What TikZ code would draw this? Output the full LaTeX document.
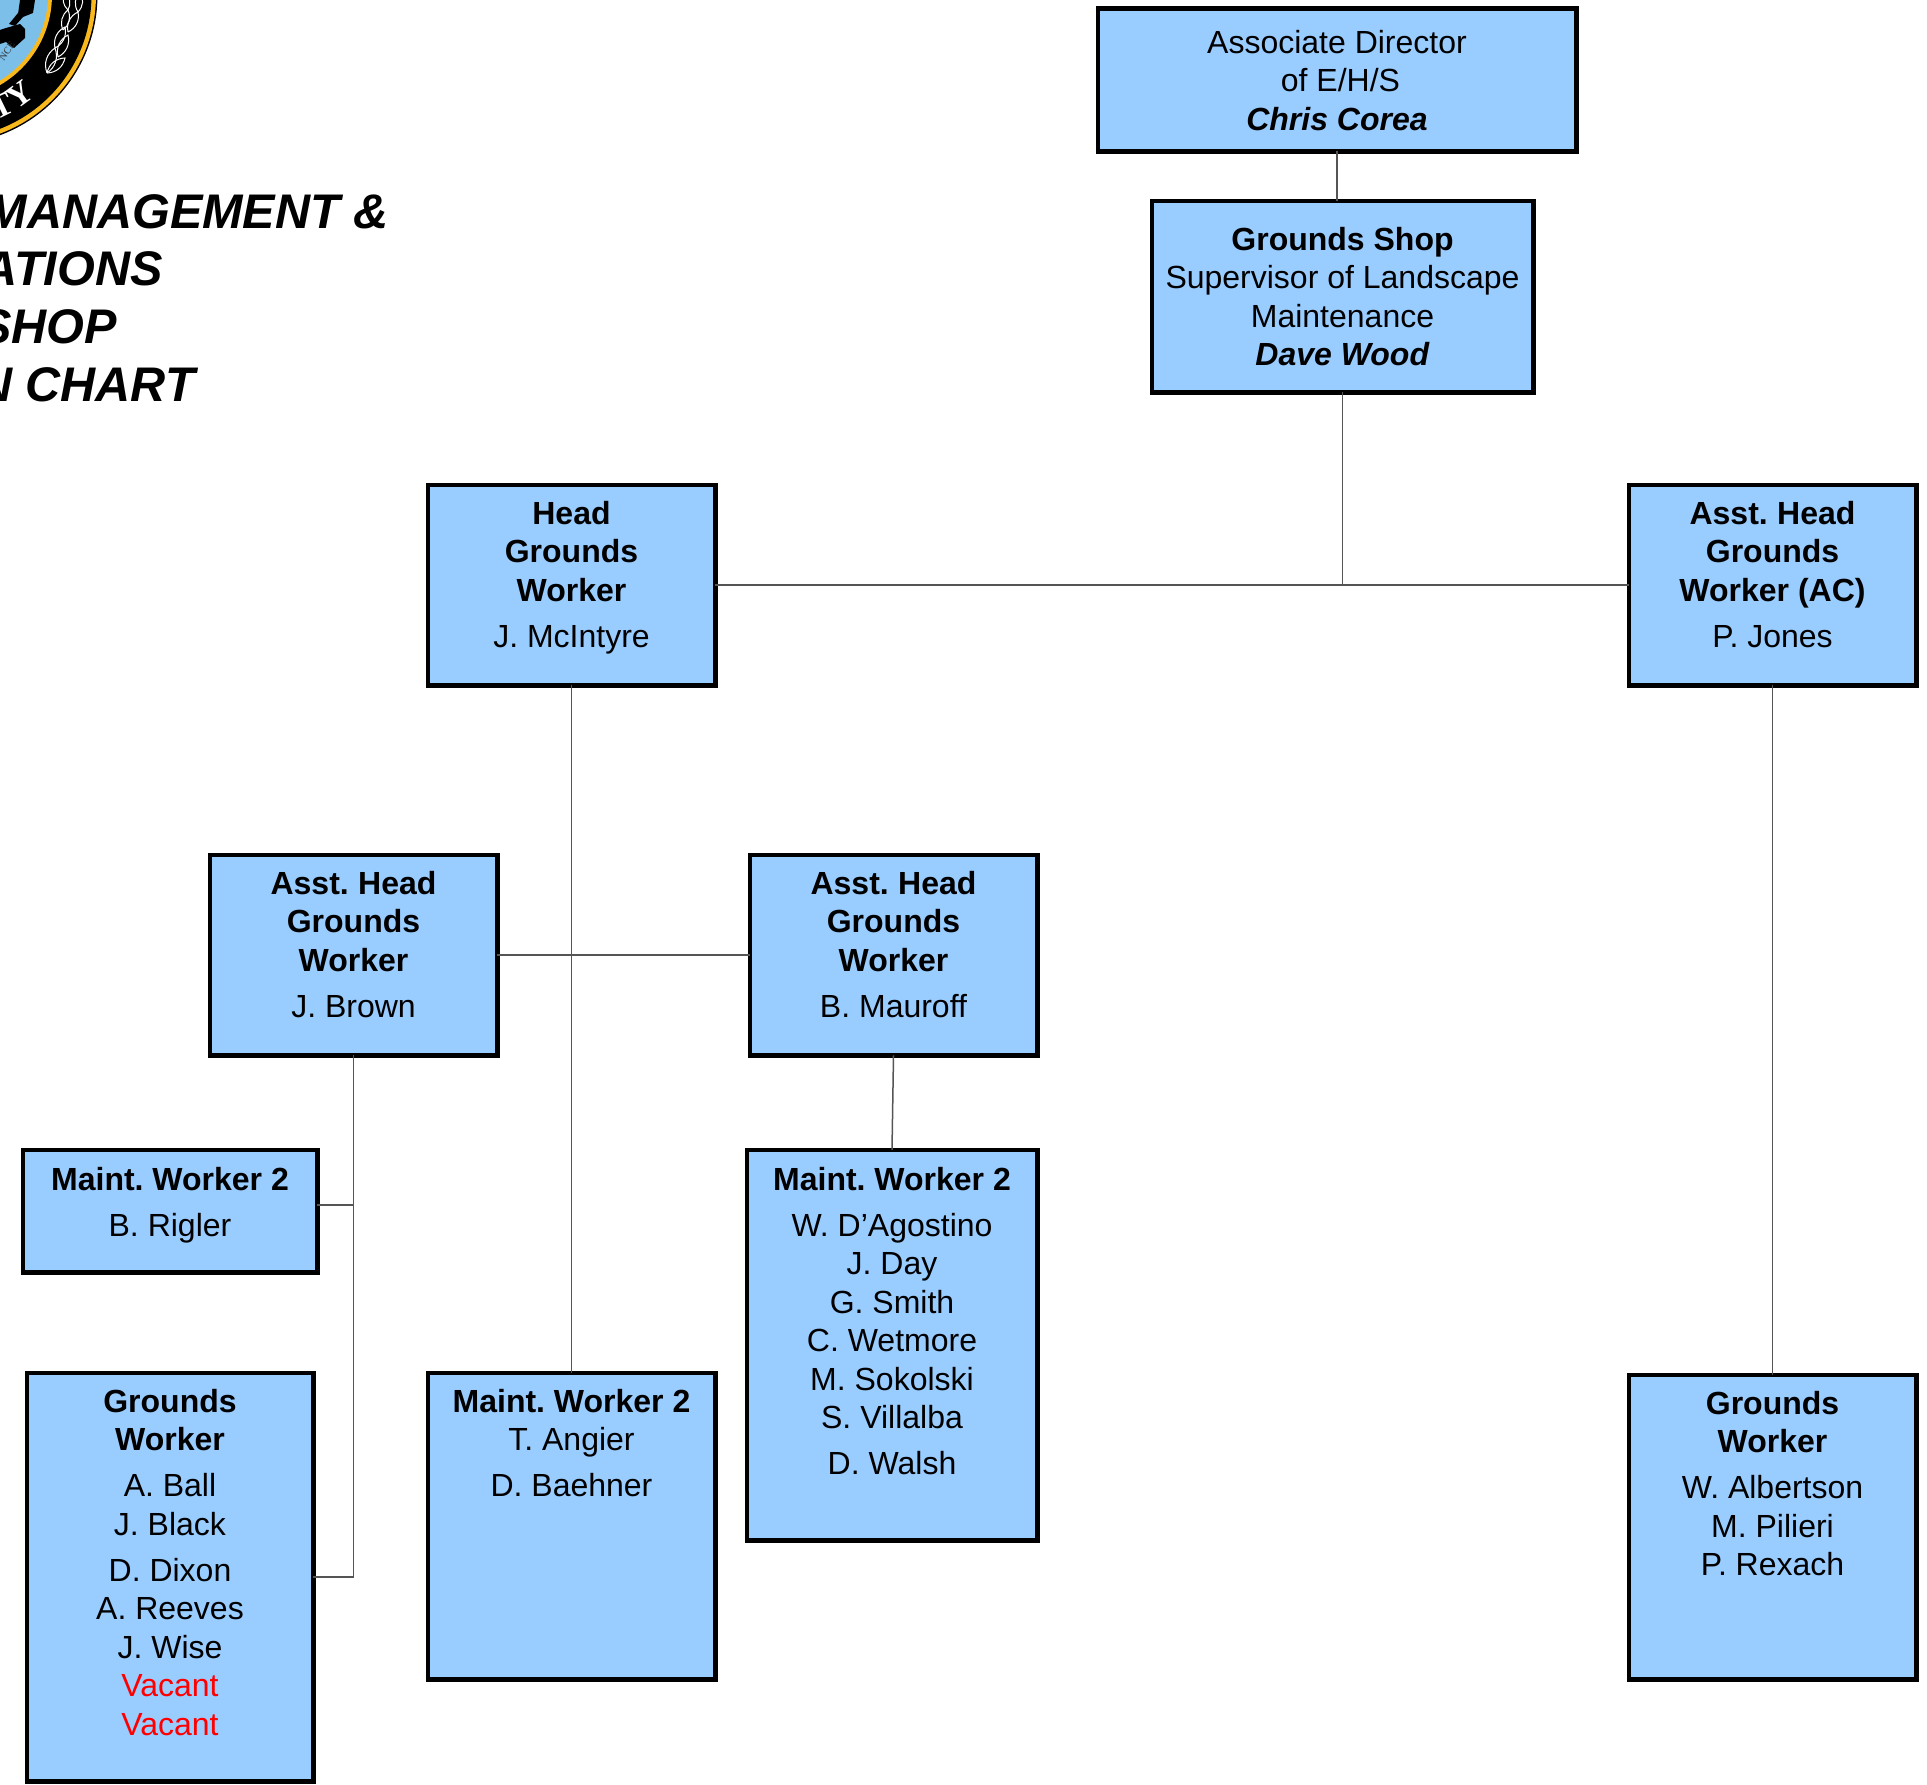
\documentclass[tikz,border=0pt]{standalone}
\usepackage{fontspec}
\setmainfont{Liberation Sans}
\newfontfamily\sealfont{Liberation Serif}
\definecolor{boxblue}{HTML}{99CCFF}
\definecolor{sealblue}{HTML}{7CC0EA}
\definecolor{sealgold}{HTML}{F9B81C}
\definecolor{linkgray}{HTML}{555555}
\newcommand{\orgbox}[7]{%
  \node[orgnode,minimum width={(#4-#2-3.5)*1pt},minimum height={(#5-#3-3.5)*1pt}] (#1) at ({(#2+#4)/2},{(#3+#5)/2})
  {\parbox[c][\dimexpr #5pt-#3pt-3.5pt\relax][t]{\dimexpr #4pt-#2pt-3.5pt\relax}{\centering\vspace*{\dimexpr #6pt-23.9pt\relax}#7}};}
\newcommand{\gap}{\\[7.5pt]}
\newcommand{\vac}[1]{\textcolor{red}{\strut #1}}
\newcommand{\B}[1]{\textbf{#1}}
\newcommand{\BI}[1]{\textbf{\textit{#1}}}
\newcommand{\mw}{\textbf{Maint.\hspace{-3pt} Worker 2}}
\newcommand{\ah}{\textbf{Asst.\hspace{-2.5pt} Head}}
\tikzset{
  orgnode/.style={draw=black,line width=4.5pt,fill=boxblue,rectangle,inner sep=0pt,outer sep=0pt,
    font=\fontsize{32}{38.5}\selectfont},
  link/.style={draw=linkgray,line width=1.5pt},
  titletext/.style={anchor=base east,inner sep=0pt,font=\fontsize{48.6}{58}\selectfont\bfseries\itshape},
  wheat/.style={draw=white,line width=1pt},
  sealtext/.style={text=white,inner sep=0pt,font=\fontsize{33}{33}\sealfont\bfseries}
}
\begin{document}
\begin{tikzpicture}[x=1pt,y=-1pt]
\useasboundingbox (0,0) rectangle (1927,1785);
\clip (0,0) rectangle (1927,1785);
% seal
\fill[black] (-52,-5) circle (149.5);
\fill[sealgold] (-52,-5) circle (148);
\fill[black] (-52,-5) circle (143.5);
\fill[sealgold] (-52,-5) circle (104);
\fill[sealblue] (-52,-5) circle (100);
\fill[black] (20,0)--(35,0)--(33,13)--(23,17)--(18,14)--cycle;
\fill[black] (18,13)--(23,17)--(15,26)--(9,24)--cycle;
\fill[black] (0,30)--(6,28)--(20,24)--(25,29)--(25,38)--(14,48)--(6,42)--(0,44)--cycle;
\node[sealtext] (sealy) at (20,95) [rotate=36] {Y};
\node[sealtext] (sealt) at (2,106) [rotate=26] {T};
\node[inner sep=0pt,text=black!80,rotate=55,font=\fontsize{10}{10}\sealfont] (sealnce) at (7,51) {NCE};
\foreach \ax/\ay/\bx/\by in {47/73/55/48, 47/73/65/58, 55/48/65/27, 58/57/68/35, 63/30/68/10, 68/32/78/12, 68/10/65/-8, 78/12/80/-8}
  \draw[wheat] (\ax,\ay) to[bend left=38] (\bx,\by) to[bend left=38] (\ax,\ay);
% title
\node[titletext] (t1) at (389,228) {MANAGEMENT \&};
\node[titletext] (t2) at (163,285) {ATIONS};
\node[titletext] (t3) at (117,343) {SHOP};
\node[titletext] (t4) at (195,401) {N CHART};
% boxes
\orgbox{assoc}{1096}{7}{1578}{153}{45}{Associate Director\\\hspace*{7pt}of E/H/S\\\BI{Chris Corea}}
\orgbox{shop}{1150}{199}{1535}{394}{50}{\B{Grounds Shop}\\Supervisor of Landscape\\Maintenance\\\BI{Dave Wood}}
\orgbox{head}{426}{483}{717}{687}{40}{\B{Head}\\\B{Grounds}\\\B{Worker}\gap J. McIntyre}
\orgbox{asstr}{1627}{483}{1918}{687}{40}{\ah\\\B{Grounds}\\\B{Worker (AC)}\gap P. Jones}
\orgbox{asstl}{208}{853}{499}{1057}{40}{\ah\\\B{Grounds}\\\B{Worker}\gap J. Brown}
\orgbox{asstm}{748}{853}{1039}{1057}{40}{\ah\\\B{Grounds}\\\B{Worker}\gap B. Mauroff}
\orgbox{mwl}{21}{1148}{319}{1274}{41}{\mw\gap B. Rigler}
\orgbox{mwr}{745}{1148}{1039}{1542}{41}{\mw\gap W. D’Agostino\\J. Day\\G. Smith\\C. Wetmore\\M. Sokolski\\S. Villalba\gap D. Walsh}
\orgbox{gwl}{25}{1371}{315}{1783}{40}{\B{Grounds}\\\B{Worker}\gap A. Ball\\J. Black\gap D. Dixon\\A. Reeves\\J. Wise\\\vac{Vacant}\\\vac{Vacant}}
\orgbox{mwm}{426}{1371}{717}{1681}{40}{\mw\\T. Angier\gap D. Baehner}
\orgbox{gwr}{1627}{1373}{1918}{1681}{40}{\B{Grounds}\\\B{Worker}\gap W. Albertson\\M. Pilieri\\P. Rexach}
% connectors
\coordinate (jl) at (353.5,1205);
\draw[link] (assoc.south) -- (assoc.south |- shop.north);
\draw[link] (shop.south) -- (shop.south |- head.east);
\draw[link] (head.east) -- (asstr.west);
\draw[link] (head.south) -- (mwm.north);
\draw[link] (asstl.east) -- (asstm.west);
\draw[link] (asstm.south) -- (mwr.north);
\draw[link] (asstr.south) -- (gwr.north);
\draw[link] (asstl.south) |- (gwl.east);
\draw[link] (jl) -- (jl -| mwl.east);
\end{tikzpicture}
\end{document}
